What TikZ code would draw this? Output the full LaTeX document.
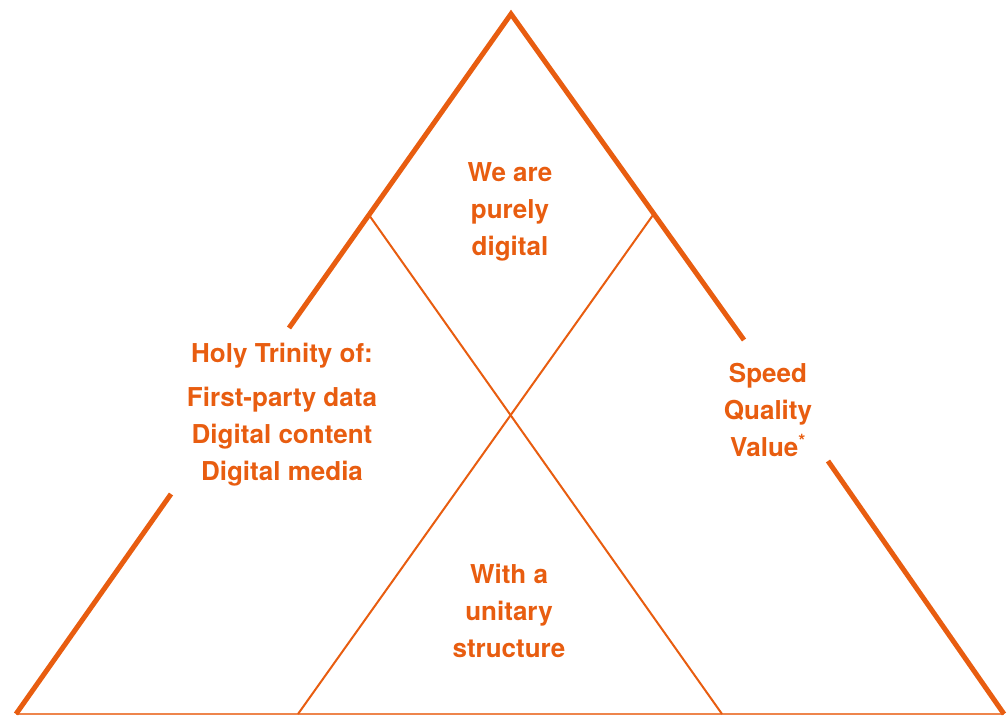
\documentclass[tikz,border=0pt]{standalone}
\usepackage{fontspec}
\setmainfont{TeX Gyre Heros}
\definecolor{pyrorange}{RGB}{232,93,16}
\tikzstyle{pyramid}=[x=1pt, y=-1pt, line join=miter]
\tikzstyle{side}=[draw=pyrorange, line width=5pt]
\tikzstyle{inner}=[draw=pyrorange, line width=2pt]
\tikzstyle{base}=[draw=pyrorange!75, line width=1.5pt]
\tikzstyle{claim}=[text=pyrorange, font=\bfseries\fontsize{26}{37}\selectfont, align=center, inner sep=0pt]

\begin{document}
\begin{tikzpicture}[pyramid]
	\useasboundingbox (0,0) rectangle (1008,715);
	%% corners
	\coordinate (top) at (511,14);
	\coordinate (bl) at (16,714);
	\coordinate (br) at (1004,714);
	%% breaks in the sides
	\coordinate (l1) at (289,328);
	\coordinate (l2) at (171,494);
	\coordinate (r1) at (744,340);
	\coordinate (r2) at (828,461);
	%% ends of the inner lines
	\coordinate (il) at (369,215);
	\coordinate (ir) at (653,215);
	\coordinate (bil) at (298,714);
	\coordinate (bir) at (722,714);
	%%%%%%
	\draw[base] (bl) -- (br);
	\draw[inner] (il) -- (bir);
	\draw[inner] (ir) -- (bil);
	%%
	\draw[side] (l1) -- (top) -- (r1);
	\draw[side] (l2) -- (bl);
	\draw[side] (r2) -- (br);
	%%%%%%
	\node[claim] (digital) at (510,212) {We are\\purely\\digital};
	\node[claim] (trinity) at (282,415) {Holy Trinity of:\\[7pt]First-party data\\Digital content\\Digital media};
	\node[claim] (speed) at (768,410) {Speed\\Quality\\Value\textsuperscript{*}};
	\node[claim] (unitary) at (509,611) {With a\\unitary\\structure};
\end{tikzpicture}
\end{document}
